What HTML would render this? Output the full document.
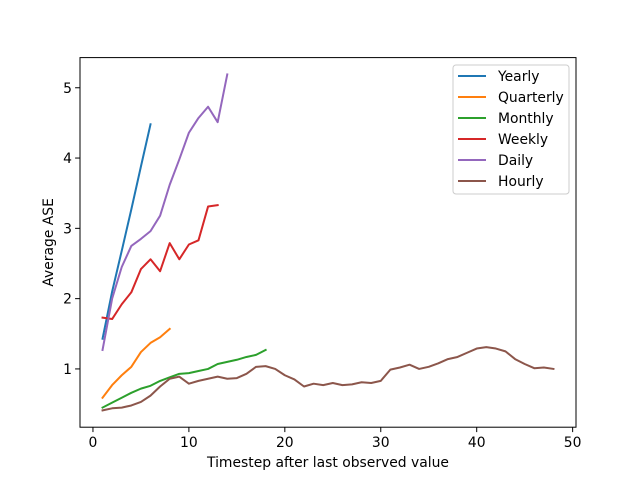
<!DOCTYPE html>
<html><head><meta charset="utf-8"><style>body{margin:0;background:#fff}svg{font-family:"DejaVu Sans","Liberation Sans",sans-serif}</style></head>
<body>
<svg id="chart" width="640" height="480" xmlns="http://www.w3.org/2000/svg"></svg>
<script>
const seriesNames = ["Yearly","Quarterly","Monthly","Weekly","Daily","Hourly"];
const colors = ["#1f77b4","#ff7f0e","#2ca02c","#d62728","#9467bd","#8c564b"];
const yearly = [1.43,2.1,2.68,3.27,3.88,4.48];
const quarterly = [0.59,0.77,0.91,1.03,1.24,1.37,1.45,1.57];
const monthly = [0.45,0.52,0.59,0.66,0.72,0.76,0.83,0.88,0.93,0.94,0.97,1.0,1.07,1.1,1.13,1.17,1.2,1.27];
const weekly = [1.73,1.71,1.92,2.09,2.42,2.56,2.39,2.79,2.56,2.77,2.83,3.31,3.33];
const daily = [1.27,2.0,2.45,2.75,2.85,2.96,3.18,3.62,3.98,4.36,4.57,4.73,4.51,5.19];
const hourly = [0.41,0.44,0.45,0.48,0.53,0.62,0.75,0.86,0.89,0.79,0.83,0.86,0.89,0.86,0.87,0.93,1.03,1.04,1.0,0.91,0.85,0.75,0.79,0.77,0.8,0.77,0.78,0.81,0.8,0.83,0.99,1.02,1.06,1.0,1.03,1.08,1.14,1.17,1.23,1.29,1.31,1.29,1.25,1.14,1.07,1.01,1.02,1.0];
const xTicks = [0,10,20,30,40,50];
const yTicks = [1,2,3,4,5];

const svg = document.getElementById('chart');
const NS = "http://www.w3.org/2000/svg";
const L=80,R=576,T=57.6,B=427.2;
const FS=13.9;
const all=[yearly,quarterly,monthly,weekly,daily,hourly];
let xmaxD=Math.max(...all.map(a=>a.length)), xminD=1;
let vals=all.flat(); let ymin=Math.min(...vals), ymax=Math.max(...vals);
const xs=(xmaxD-xminD)*0.05, ys=(ymax-ymin)*0.05;
const x0=xminD-xs,x1=xmaxD+xs,y0=ymin-ys,y1=ymax+ys;
const X=v=>L+(v-x0)/(x1-x0)*(R-L);
const Y=v=>B-(v-y0)/(y1-y0)*(B-T);
function el(tag,attrs,txt){const e=document.createElementNS(NS,tag);for(const k in attrs)e.setAttribute(k,attrs[k]);if(txt!==undefined)e.textContent=txt;svg.appendChild(e);return e;}

all.forEach((s,i)=>{
  const p=el('polyline',{points:s.map((v,j)=>X(j+1)+','+Y(v)).join(' '),fill:'none',stroke:colors[i],'stroke-width':2,'stroke-linejoin':'round','stroke-linecap':'square'});
  
  
});
const frame=el('rect',{x:L,y:T,width:R-L,height:B-T,fill:'none',stroke:'#000','stroke-width':1});


xTicks.forEach(t=>{
  const tk=el('line',{x1:X(t),x2:X(t),y1:B,y2:B+4.9,stroke:'#000','stroke-width':1});
  
  
  const tl=el('text',{x:X(t),y:B+20,'font-size':FS,'text-anchor':'middle'},String(t));
  
  
});
yTicks.forEach(t=>{
  const tk=el('line',{x1:L-4.9,x2:L,y1:Y(t),y2:Y(t),stroke:'#000','stroke-width':1});
  
  
  const tl=el('text',{x:L-8,y:Y(t)+5,'font-size':FS,'text-anchor':'end'},String(t));
  
  
});
const xt=el('text',{x:(L+R)/2,y:467,'font-size':FS,'text-anchor':'middle'},'Timestep after last observed value');


const yt=el('text',{x:53,y:(T+B)/2,'font-size':FS,'text-anchor':'middle',transform:'rotate(-90 53 '+((T+B)/2)+')'},'Average ASE');


const lb=el('rect',{x:453,y:65,width:116,height:129,rx:3,fill:'#fff','fill-opacity':0.8,stroke:'#ccc','stroke-width':1});


seriesNames.forEach((n,i)=>{
  const y=76+i*21;
  const ln=el('line',{x1:458,x2:486,y1:y,y2:y,stroke:colors[i],'stroke-width':2});
  
  
  const t=el('text',{x:498,y:y+5,'font-size':FS},n);
  
  
});
</script>
</body></html>
